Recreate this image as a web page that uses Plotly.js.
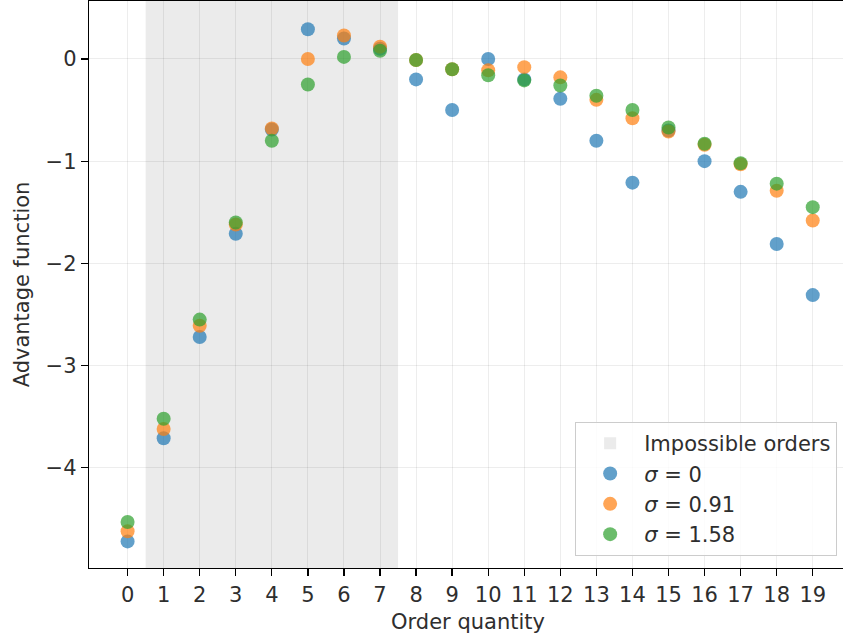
<!DOCTYPE html>
<html>
<head>
<meta charset="utf-8">
<script src="https://cdn.plot.ly/plotly-3.0.1.min.js"></script>
<style>
  html, body { margin: 0; padding: 0; overflow: hidden; background: #fff; }
  #chart { width: 870px; height: 639px; }
</style>
</head>
<body>
<div id="chart"></div>
<script>
// ---- data ----
const orderQuantity = [0,1,2,3,4,5,6,7,8,9,10,11,12,13,14,15,16,17,18,19];
const sigma0   = [-4.72,-3.71,-2.72,-1.71,-0.69,0.29,0.20,0.10,-0.20,-0.50,0.00,-0.20,-0.39,-0.80,-1.21,-0.70,-1.00,-1.30,-1.81,-2.31];
const sigma091 = [-4.62,-3.62,-2.61,-1.62,-0.68,0.00,0.23,0.12,-0.01,-0.10,-0.11,-0.08,-0.18,-0.40,-0.58,-0.71,-0.84,-1.03,-1.29,-1.58];
const sigma158 = [-4.53,-3.52,-2.55,-1.60,-0.80,-0.25,0.02,0.08,-0.01,-0.10,-0.16,-0.21,-0.26,-0.36,-0.50,-0.67,-0.83,-1.02,-1.22,-1.45];
const seriesNames = ['<i>σ</i> = 0', '<i>σ</i> = 0.91', '<i>σ</i> = 1.58'];
const impossibleRange = [0.5, 7.5];
const impossibleLabel = 'Impossible orders';

const colors = ['#1f77b4', '#ff7f0e', '#2ca02c'];
const FONT = 'DejaVu Sans, sans-serif';
const FS = 21;
const TXT = '#2e2e2e';

const seriesValues = [sigma0, sigma091, sigma158];
const traces = seriesValues.map((vals, i) => ({
  type: 'scatter',
  mode: 'markers',
  x: orderQuantity,
  y: vals,
  name: seriesNames[i],
  legendrank: 2 + i,
  marker: { color: colors[i], size: 14, opacity: 0.7, line: { width: 0 } },
  hoverinfo: 'skip'
}));

const layout = {
  width: 870,
  height: 639,
  margin: { l: 89, r: 23, t: 1, b: 71 },
  paper_bgcolor: '#ffffff',
  plot_bgcolor: '#ffffff',
  font: { family: FONT, size: FS, color: TXT },
  showlegend: true,
  xaxis: {
    range: [-1.07, 19.95],
    tickmode: 'array',
    tickvals: orderQuantity,
    ticktext: orderQuantity.map(String),
    ticks: 'outside', ticklen: 7, tickwidth: 1.3, tickcolor: '#000',
    showline: true, linecolor: '#000', linewidth: 1.3, mirror: true,
    showgrid: true, gridcolor: 'rgba(0,0,0,0.07)', gridwidth: 1,
    zeroline: false,
    tickfont: { family: FONT, size: FS, color: TXT },
    title: { text: 'Order quantity', font: { family: FONT, size: FS, color: TXT }, standoff: 8 }
  },
  yaxis: {
    range: [-4.98, 0.567],
    tickmode: 'array',
    tickvals: [-4, -3, -2, -1, 0],
    ticks: 'outside', ticklen: 7, tickwidth: 1.3, tickcolor: '#000',
    showline: true, linecolor: '#000', linewidth: 1.3, mirror: true,
    showgrid: true, gridcolor: 'rgba(0,0,0,0.07)', gridwidth: 1,
    zeroline: false,
    tickfont: { family: FONT, size: FS, color: TXT },
    title: { text: 'Advantage function', font: { family: FONT, size: FS, color: TXT }, standoff: 10 }
  },
  shapes: [{
    type: 'rect', xref: 'x', yref: 'paper',
    x0: impossibleRange[0], x1: impossibleRange[1], y0: 0, y1: 1,
    fillcolor: 'rgba(128,128,128,0.16)', line: { width: 0 },
    layer: 'below',
    showlegend: true, name: impossibleLabel, legendrank: 1
  }],
  legend: {
    x: 0.987, xanchor: 'right',
    y: 0.021, yanchor: 'bottom',
    bgcolor: 'rgba(255,255,255,0.8)',
    bordercolor: '#cccccc', borderwidth: 1,
    itemwidth: 58,
    font: { family: FONT, size: FS, color: TXT },
    traceorder: 'normal'
  }
};

Plotly.newPlot('chart', traces, layout, { displayModeBar: false, staticPlot: true });
</script>
</body>
</html>
